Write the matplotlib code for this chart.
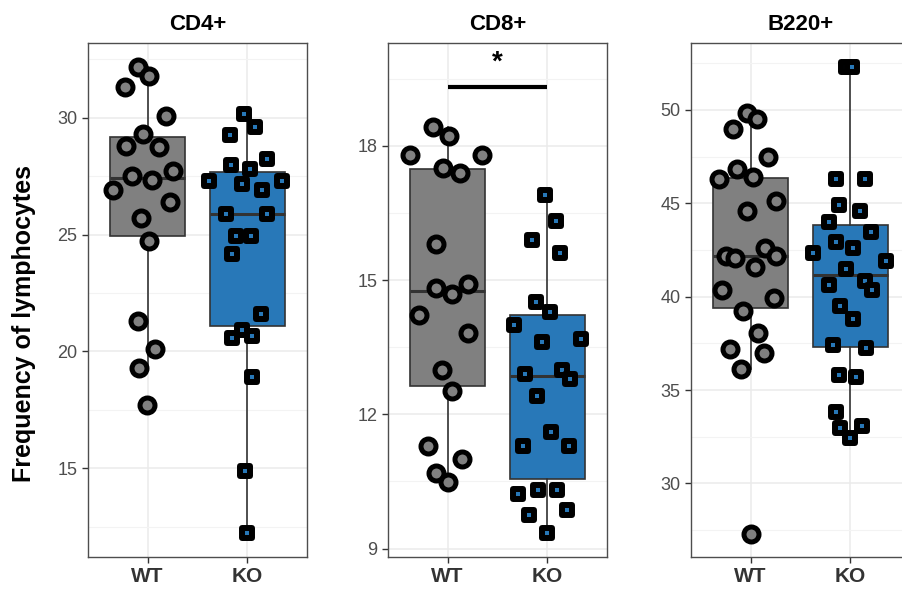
import matplotlib.pyplot as plt
import numpy as np
from matplotlib.markers import MarkerStyle
from matplotlib.ticker import MultipleLocator

plt.rcParams['font.family'] = ['Liberation Sans', 'DejaVu Sans']

groups = ['WT', 'KO']
titles = ['CD4+', 'CD8+', 'B220+']

# values, jitter = horizontal offset of each dot
cd4_wt = [32.19, 31.79, 31.30, 30.09, 29.32, 28.80, 28.75, 27.71, 27.49, 27.35,
          26.89, 26.38, 25.71, 24.71, 21.30, 20.09, 19.30, 17.69]
cd4_wt_jit = [-0.10, 0.017, -0.224, 0.184, -0.044, -0.218, 0.117, 0.251, -0.157, 0.044,
              -0.345, 0.224, -0.067, 0.017, -0.10, 0.077, -0.084, -0.007]
cd4_ko = [30.17, 29.60, 29.27, 28.23, 27.99, 27.81, 27.28, 27.18, 27.28, 26.89, 25.90,
          25.90, 24.96, 24.96, 24.15, 21.58, 20.90, 20.58, 20.68, 18.90, 14.88, 12.22]
cd4_ko_jit = [-0.033, 0.077, -0.177, 0.201, -0.167, 0.023, -0.385, -0.050, 0.345, 0.144, -0.218,
              0.201, -0.117, 0.033, -0.157, 0.134, -0.050, -0.157, 0.050, 0.044, -0.027, 0.0]

cd8_wt = [18.42, 18.21, 17.80, 17.80, 17.50, 17.39, 15.81, 14.82, 14.70, 14.92,
          14.21, 13.82, 13.00, 12.52, 11.30, 11.01, 10.69, 10.48]
cd8_wt_jit = [-0.144, 0.013, -0.378, 0.348, -0.050, 0.124, -0.117, -0.121, 0.040, 0.201,
              -0.288, 0.201, -0.054, 0.040, -0.194, 0.141, -0.121, 0.0]
cd8_ko = [16.91, 16.31, 15.90, 15.60, 14.50, 14.28, 14.00, 13.61, 13.69, 12.90, 13.00,
          12.79, 12.40, 11.60, 11.30, 11.30, 10.21, 10.31, 10.31, 9.74, 9.86, 9.34]
cd8_ko_jit = [-0.027, 0.084, -0.154, 0.124, -0.111, 0.023, -0.338, -0.050, 0.342, -0.228, 0.147,
              0.224, -0.104, 0.033, -0.244, 0.218, -0.295, -0.094, 0.100, -0.184, 0.201, 0.0]

b220_wt = [49.82, 49.50, 48.97, 47.47, 46.83, 46.30, 46.40, 45.10, 44.57, 42.20, 42.08,
           42.61, 42.20, 41.60, 40.35, 39.94, 39.23, 38.03, 37.21, 37.00, 36.11, 27.30]
b220_wt_jit = [-0.040, 0.067, -0.181, 0.177, -0.141, -0.315, 0.027, 0.255, -0.033, -0.248, -0.157,
               0.144, 0.255, 0.044, -0.291, 0.234, -0.074, 0.077, -0.208, 0.134, -0.100, 0.0]
b220_ko = [52.28, 52.28, 46.30, 46.30, 44.93, 44.57, 43.98, 43.45, 42.91, 42.61, 42.31, 41.90, 41.49,
           40.60, 40.83, 40.38, 39.49, 38.78, 37.39, 37.27, 35.79, 35.72, 33.80, 32.94, 33.05, 32.41]
b220_ko_jit = [-0.040, 0.020, -0.141, 0.151, -0.114, 0.094, -0.218, 0.204, -0.141, 0.027, -0.375, 0.362, -0.040,
               -0.218, 0.144, 0.218, -0.100, 0.027, -0.174, 0.161, -0.114, 0.060, -0.141, -0.100, 0.121, 0.0]

panels = [
    (cd4_wt, cd4_wt_jit, cd4_ko, cd4_ko_jit, (11.2, 33.2), 5),
    (cd8_wt, cd8_wt_jit, cd8_ko, cd8_ko_jit, (8.81, 20.30), 3),
    (b220_wt, b220_wt_jit, b220_ko, b220_ko_jit, (26.06, 53.58), 5),
]
sig_y = 19.31  # CD8+ bracket

wt_fill = '#808080'
ko_fill = '#2878b8'
dark = '#333333'

fig = plt.figure(figsize=(9.03, 5.89), dpi=100)
lefts = [88, 388, 691]
axes = []
for l in lefts:
    axes.append(fig.add_axes([l / 903, 32 / 589, 219 / 903, 514 / 589]))

circ = MarkerStyle('o')
sq = MarkerStyle('s', joinstyle='round')

for ax, (wt, wtj, ko, koj, ylim, step), title in zip(axes, panels, titles):
    bp = ax.boxplot([wt, ko], positions=[1, 2], widths=0.75, whis=1.5,
                    showfliers=False, showcaps=False, patch_artist=True,
                    medianprops=dict(color=dark, lw=2.2),
                    whiskerprops=dict(color=dark, lw=1.2),
                    boxprops=dict(edgecolor=dark, lw=1.2), zorder=2)
    bp['boxes'][0].set_facecolor(wt_fill)
    bp['boxes'][1].set_facecolor(ko_fill)

    ax.plot(1 + np.array(wtj), wt, ls='none', marker=circ, ms=10.8, mew=3.6,
            mfc=wt_fill, mec='black', zorder=3)
    ax.plot(2 + np.array(koj), ko, ls='none', marker=sq, ms=7.2, mew=4.3,
            mfc=ko_fill, mec='black', zorder=3)

    ax.set_xlim(0.4, 2.6)
    ax.set_ylim(*ylim)
    ax.yaxis.set_major_locator(MultipleLocator(step))
    ax.yaxis.set_minor_locator(MultipleLocator(step / 2))
    ax.set_xticks([1, 2])
    ax.set_xticklabels(groups, fontsize=15, fontweight='bold', color=dark)
    ax.tick_params(axis='y', labelsize=13, labelcolor='#4d4d4d', color=dark,
                   length=4, width=1)
    ax.tick_params(axis='x', color=dark, length=4, width=1, pad=3)
    ax.tick_params(which='minor', length=0)
    ax.grid(True, which='major', color='#ebebeb', lw=1.1, zorder=0)
    ax.grid(True, which='minor', axis='y', color='#f3f3f3', lw=0.8, zorder=0)
    ax.set_axisbelow(True)
    for s in ax.spines.values():
        s.set_color('#4d4d4d')
        s.set_linewidth(1)
    ax.set_title(title, fontsize=16, fontweight='bold', pad=9)

# significance bracket on CD8+
axes[1].plot([1, 2], [sig_y, sig_y], color='black', lw=3, solid_capstyle='butt', zorder=4)
axes[1].text(1.5, sig_y + 0.25, '*', ha='center', va='bottom', fontsize=20,
             fontweight='bold')

fig.text(0.027, 0.45, 'Frequency of lymphocytes', rotation=90, ha='center',
         va='center', fontsize=18, fontweight='bold')

fig.savefig('out.png', dpi=100)
